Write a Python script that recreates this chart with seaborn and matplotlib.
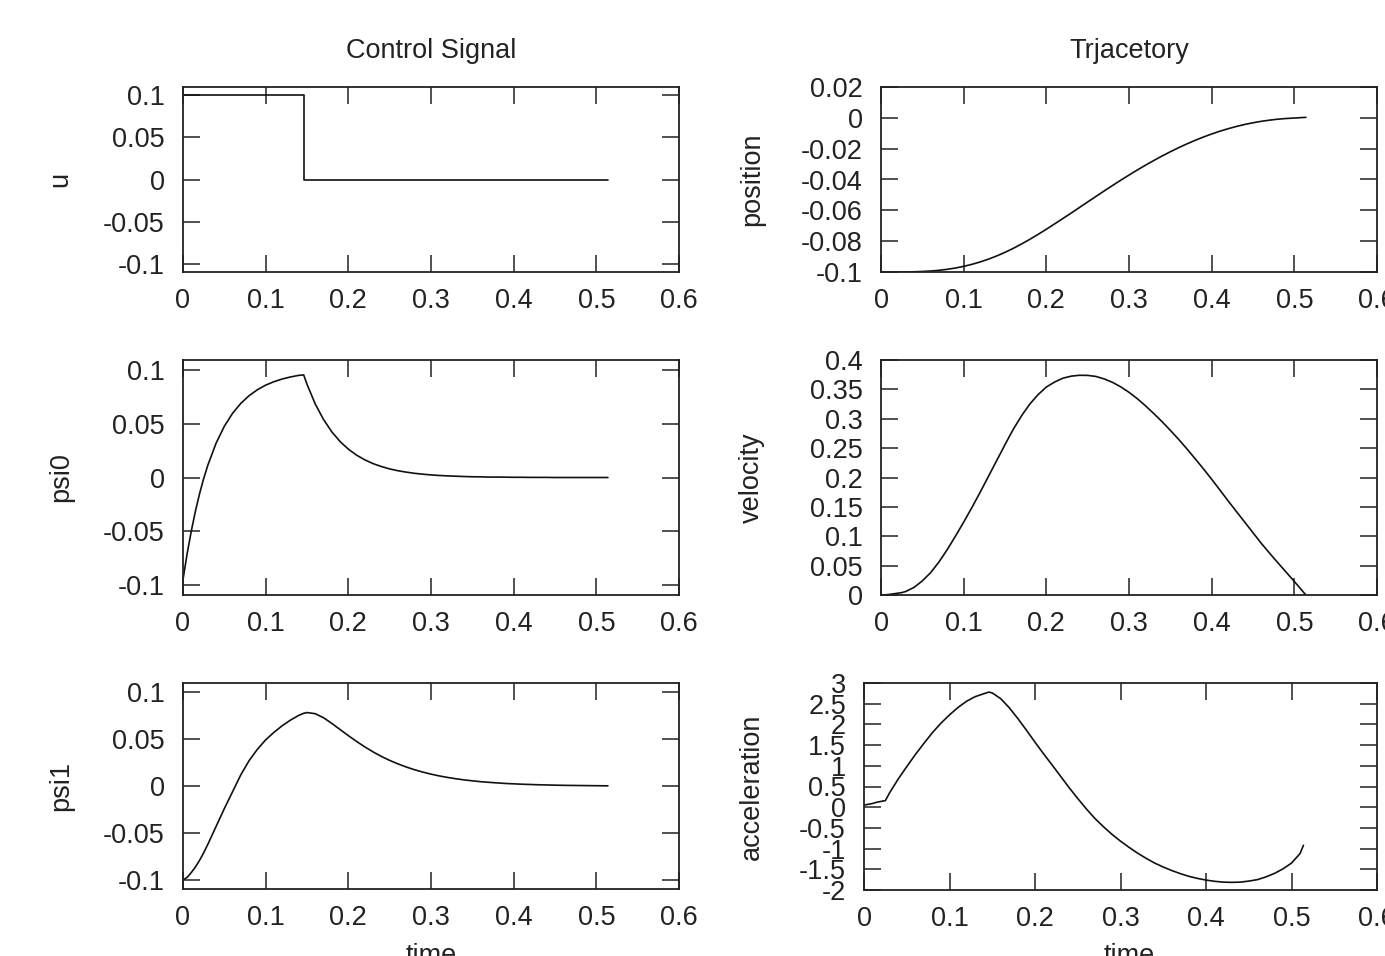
import numpy as np
import pandas as pd
import matplotlib
matplotlib.use("Agg")
import matplotlib.pyplot as plt
from matplotlib.ticker import FuncFormatter, MultipleLocator
import seaborn as sns

# ---------------- data ----------------
t = [0, 0.005, 0.01, 0.015, 0.02, 0.025, 0.03, 0.04, 0.05, 0.06, 0.07, 0.08, 0.09,
     0.10, 0.11, 0.12, 0.13, 0.14, 0.146, 0.15, 0.16, 0.17, 0.18, 0.19, 0.20,
     0.21, 0.22, 0.23, 0.24, 0.25, 0.26, 0.27, 0.28, 0.29, 0.30, 0.31, 0.32,
     0.33, 0.34, 0.35, 0.36, 0.37, 0.38, 0.39, 0.40, 0.41, 0.42, 0.43, 0.44,
     0.45, 0.46, 0.47, 0.48, 0.49, 0.50, 0.51, 0.514]

u_t = [0, 0.146, 0.146, 0.514]
u = [0.1, 0.1, 0.0, 0.0]

psi0 = [-0.095, -0.071, -0.050, -0.0314, -0.0152, -0.001, 0.0114, 0.0319, 0.0477, 0.0598,
        0.0691, 0.0762, 0.0817, 0.0860, 0.0892, 0.0917, 0.0936, 0.0951, 0.0955, 0.0868,
        0.0684, 0.0540, 0.0425, 0.0335, 0.0264, 0.0208, 0.0164, 0.0129, 0.0102, 0.0080,
        0.0063, 0.0050, 0.0039, 0.0031, 0.0024, 0.0019, 0.0015, 0.0012, 0.0009, 0.0007,
        0.0006, 0.0004, 0.0004, 0.0003, 0.0002, 0.0002, 0.0001, 0.0001, 0.0001, 0.0,
        0.0, 0.0, 0.0, 0.0, 0.0, 0.0, 0.0]

psi1 = [-0.100, -0.097, -0.092, -0.086, -0.079, -0.071, -0.062, -0.043, -0.024, -0.006,
        0.012, 0.027, 0.039, 0.049, 0.057, 0.064, 0.070, 0.075, 0.0772, 0.0780,
        0.0768, 0.0725, 0.0665, 0.0600, 0.0535, 0.0473, 0.0415, 0.0362, 0.0314, 0.0272,
        0.0235, 0.0202, 0.0173, 0.0148, 0.0126, 0.0107, 0.0091, 0.0077, 0.0065, 0.0055,
        0.0046, 0.0039, 0.0033, 0.0027, 0.0023, 0.0019, 0.0016, 0.0013, 0.0011, 0.0009,
        0.0007, 0.0006, 0.0005, 0.0004, 0.0003, 0.0002, 0.0002]

position = [-0.1, -0.1, -0.1, -0.09999, -0.09997, -0.09995, -0.09993, -0.09984, -0.09966,
            -0.09936, -0.09891, -0.09827, -0.09742, -0.09634, -0.09503, -0.09347,
            -0.09166, -0.08958, -0.0882, -0.08725, -0.08466, -0.08184, -0.07881,
            -0.0756, -0.07226, -0.0688, -0.06531, -0.0618, -0.05816, -0.05457,
            -0.05098, -0.04742, -0.04392, -0.04047, -0.03712, -0.03386, -0.03070,
            -0.02767, -0.02477, -0.02200, -0.01938, -0.01691, -0.01460, -0.01246,
            -0.01047, -0.00867, -0.00704, -0.00559, -0.00430, -0.00320, -0.00226,
            -0.00150, -0.00088, -0.00043, -0.00013, 0.0002, 0.0003]

velocity = [0.0, 0.0003, 0.001, 0.002, 0.003, 0.004, 0.006, 0.013, 0.024, 0.038,
            0.056, 0.077, 0.100, 0.124, 0.149, 0.175, 0.202, 0.229, 0.245, 0.256,
            0.282, 0.305, 0.325, 0.341, 0.354, 0.3625, 0.369, 0.3725, 0.374, 0.3738,
            0.372, 0.3678, 0.362, 0.3543, 0.345, 0.3342, 0.322, 0.3088, 0.295, 0.2803,
            0.265, 0.2488, 0.232, 0.2148, 0.197, 0.1787, 0.160, 0.142, 0.124, 0.106,
            0.088, 0.0713, 0.055, 0.039, 0.023, 0.0065, 0.0]

acceleration = [0.05, 0.07, 0.09, 0.12, 0.14, 0.16, 0.35, 0.68, 0.98, 1.27, 1.54, 1.80,
                2.03, 2.23, 2.41, 2.56, 2.67, 2.74, 2.78, 2.76, 2.62, 2.40, 2.14, 1.86,
                1.57, 1.29, 1.02, 0.745, 0.47, 0.21, -0.04, -0.27, -0.47, -0.655,
                -0.82, -0.97, -1.11, -1.235, -1.35, -1.445, -1.53, -1.605, -1.67,
                -1.72, -1.76, -1.79, -1.81, -1.815, -1.81, -1.785, -1.75, -1.685,
                -1.60, -1.49, -1.35, -1.12, -0.92]

titles = ["Control Signal", "Trjacetory"]
xlabel = "time"

# ---------------- style ----------------
sns.set_style("ticks")
plt.rcParams["font.family"] = ["Liberation Sans", "DejaVu Sans"]
plt.rcParams["axes.unicode_minus"] = False

FS = 19.5
INK = "#222222"
W, H = 1385, 956
fig = plt.figure(figsize=(W / 100, H / 100), dpi=100)


def add_ax(x0, top, x1, bottom):
    return fig.add_axes([x0 / W, (H - bottom) / H, (x1 - x0) / W, (bottom - top) / H])


def _fmt(v, p):
    if abs(v) < 1e-9:
        return "0"
    return "%g" % round(v, 6)


fmt = FuncFormatter(_fmt)


def style(ax, ylim, ystep, ylabel_text, label_x):
    ax.set_xlim(0, 0.6)
    ax.set_ylim(*ylim)
    ax.xaxis.set_major_locator(MultipleLocator(0.1))
    ax.yaxis.set_major_locator(MultipleLocator(ystep))
    ax.xaxis.set_major_formatter(fmt)
    ax.yaxis.set_major_formatter(fmt)
    ax.tick_params(axis="both", direction="in", top=True, right=True,
                   length=12, width=1.1, color=INK, labelsize=FS,
                   labelcolor=INK)
    ax.tick_params(axis="x", pad=11.5)
    ax.tick_params(axis="y", pad=13)
    for s in ax.spines.values():
        s.set_linewidth(1.3)
        s.set_color(INK)
    ax.set_xlabel("")
    ax.set_ylabel(ylabel_text, fontsize=FS, va="center", color=INK)
    pos = ax.get_position()
    ax.yaxis.set_label_coords(label_x / W, pos.y0 + pos.height / 2,
                              transform=fig.transFigure)


def draw(ax, x, y):
    df = pd.DataFrame({"x": x, "y": y})
    sns.lineplot(data=df, x="x", y="y", ax=ax, color="#111111", linewidth=1.2,
                 estimator=None, sort=False)


lim_l = (-0.1094, 0.1094)

ax1 = add_ax(183, 87, 679, 272)
draw(ax1, u_t, u)
style(ax1, lim_l, 0.05, "u", 60)
ax1.set_title(titles[0], fontsize=FS, pad=21, color=INK)

ax2 = add_ax(183, 360, 679, 595)
draw(ax2, t, psi0)
style(ax2, lim_l, 0.05, "psi0", 61)

ax3 = add_ax(183, 683, 679, 889)
draw(ax3, t, psi1)
style(ax3, lim_l, 0.05, "psi1", 61)

ax4 = add_ax(881, 87, 1377, 272)
draw(ax4, t, position)
style(ax4, (-0.1, 0.02), 0.02, "position", 752)
ax4.set_title(titles[1], fontsize=FS, pad=21, color=INK)

ax5 = add_ax(881, 360, 1377, 595)
draw(ax5, t, velocity)
style(ax5, (0, 0.4), 0.05, "velocity", 752)

ax6 = add_ax(864, 683, 1377, 890)
draw(ax6, t, acceleration)
style(ax6, (-2, 3), 0.5, "acceleration", 752)

for ax, cx in [(ax3, 431), (ax6, 1129)]:
    ax.set_xlabel(xlabel, fontsize=FS, color=INK)
    ax.xaxis.set_label_coords(cx / W, (H - 943) / H, transform=fig.transFigure)

fig.savefig("out.png", dpi=100, facecolor="white")
